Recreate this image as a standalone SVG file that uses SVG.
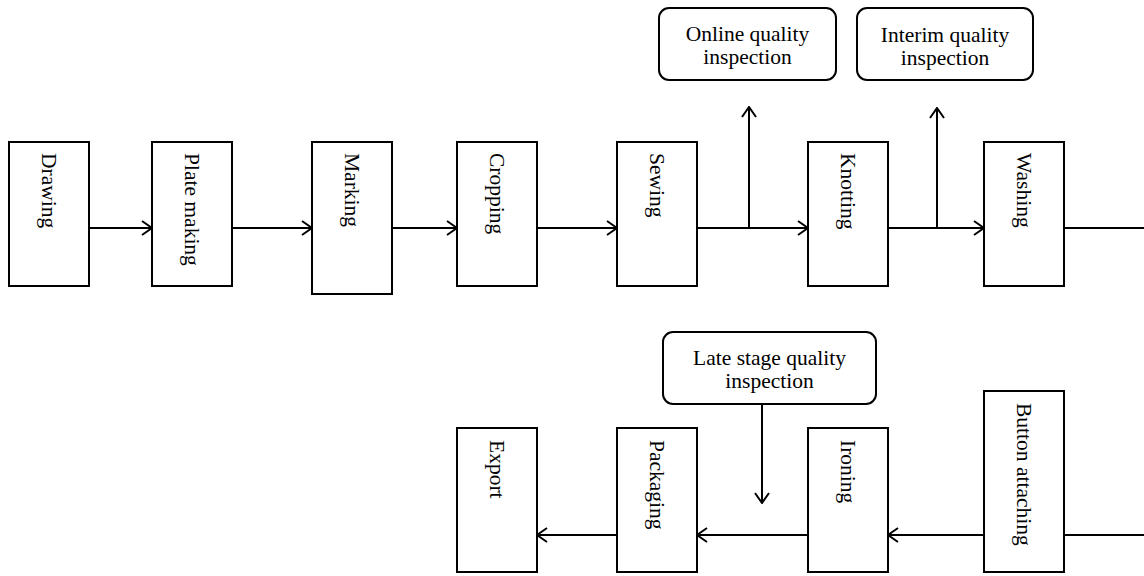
<svg xmlns="http://www.w3.org/2000/svg" width="1144" height="576" viewBox="0 0 1144 576">
<style>
.box{fill:#fff;stroke:#000;stroke-width:2}
.t{font-family:"Liberation Serif","Times New Roman",serif;font-size:21.5px;fill:#000}
.c{text-anchor:middle}
.ln{fill:none;stroke:#000;stroke-width:2}
</style>
<defs>
<marker id="arr" viewBox="0 0 12 16" refX="11" refY="8" markerWidth="12" markerHeight="16" markerUnits="userSpaceOnUse" orient="auto">
<path d="M1,1 L11,8 L1,15" fill="none" stroke="#000" stroke-width="2"/>
</marker>
</defs>
<rect width="1144" height="576" fill="#fff"/>
<g id="connectors">
<line class="ln" x1="89" y1="228" x2="152" y2="228" marker-end="url(#arr)"/>
<line class="ln" x1="232" y1="228" x2="312" y2="228" marker-end="url(#arr)"/>
<line class="ln" x1="392" y1="228" x2="457" y2="228" marker-end="url(#arr)"/>
<line class="ln" x1="537" y1="228" x2="617" y2="228" marker-end="url(#arr)"/>
<line class="ln" x1="697" y1="228" x2="808" y2="228" marker-end="url(#arr)"/>
<line class="ln" x1="749" y1="228" x2="749" y2="107" marker-end="url(#arr)"/>
<line class="ln" x1="888" y1="228" x2="984" y2="228" marker-end="url(#arr)"/>
<line class="ln" x1="937" y1="228" x2="937" y2="108" marker-end="url(#arr)"/>
<line class="ln" x1="1064" y1="228" x2="1144" y2="228"/>
<line class="ln" x1="1144" y1="535" x2="1064" y2="535"/>
<line class="ln" x1="984" y1="535" x2="888" y2="535" marker-end="url(#arr)"/>
<line class="ln" x1="808" y1="535" x2="697" y2="535" marker-end="url(#arr)"/>
<line class="ln" x1="617" y1="535" x2="537" y2="535" marker-end="url(#arr)"/>
<line class="ln" x1="762" y1="404" x2="762" y2="503" marker-end="url(#arr)"/>
</g>
<g id="drawing"><rect class="box" x="9" y="142" width="80" height="144"/><text class="t" transform="translate(49,153) rotate(90)" y="7">Drawing</text></g>
<g id="plate-making"><rect class="box" x="152" y="142" width="80" height="144"/><text class="t" transform="translate(192,153) rotate(90)" y="7">Plate making</text></g>
<g id="marking"><rect class="box" x="312" y="142" width="80" height="152"/><text class="t" transform="translate(352,153) rotate(90)" y="7">Marking</text></g>
<g id="cropping"><rect class="box" x="457" y="142" width="80" height="144"/><text class="t" transform="translate(497,153) rotate(90)" y="7">Cropping</text></g>
<g id="sewing"><rect class="box" x="617" y="142" width="80" height="144"/><text class="t" transform="translate(657,153) rotate(90)" y="7">Sewing</text></g>
<g id="knotting"><rect class="box" x="808" y="142" width="80" height="144"/><text class="t" transform="translate(848,153) rotate(90)" y="7">Knotting</text></g>
<g id="washing"><rect class="box" x="984" y="142" width="80" height="144"/><text class="t" transform="translate(1024,153) rotate(90)" y="7">Washing</text></g>
<g id="online-qi"><rect class="box" x="659" y="8" width="177" height="72" rx="10"/><text class="t c" x="747.5" y="41">Online quality</text><text class="t c" x="747.5" y="64">inspection</text></g>
<g id="interim-qi"><rect class="box" x="857" y="8" width="176" height="72" rx="10"/><text class="t c" x="945" y="42">Interim quality</text><text class="t c" x="945" y="65">inspection</text></g>
<g id="late-qi"><rect class="box" x="663" y="332" width="213" height="72" rx="10"/><text class="t c" x="769.5" y="365">Late stage quality</text><text class="t c" x="769.5" y="388">inspection</text></g>
<g id="export"><rect class="box" x="457" y="428" width="80" height="144"/><text class="t" transform="translate(497,440) rotate(90)" y="7">Export</text></g>
<g id="packaging"><rect class="box" x="617" y="428" width="80" height="144"/><text class="t" transform="translate(657,440) rotate(90)" y="7">Packaging</text></g>
<g id="ironing"><rect class="box" x="808" y="428" width="80" height="144"/><text class="t" transform="translate(848,440) rotate(90)" y="7">Ironing</text></g>
<g id="button-attaching"><rect class="box" x="984" y="391" width="80" height="181"/><text class="t" transform="translate(1024,403) rotate(90)" y="7">Button attaching</text></g>
</svg>
